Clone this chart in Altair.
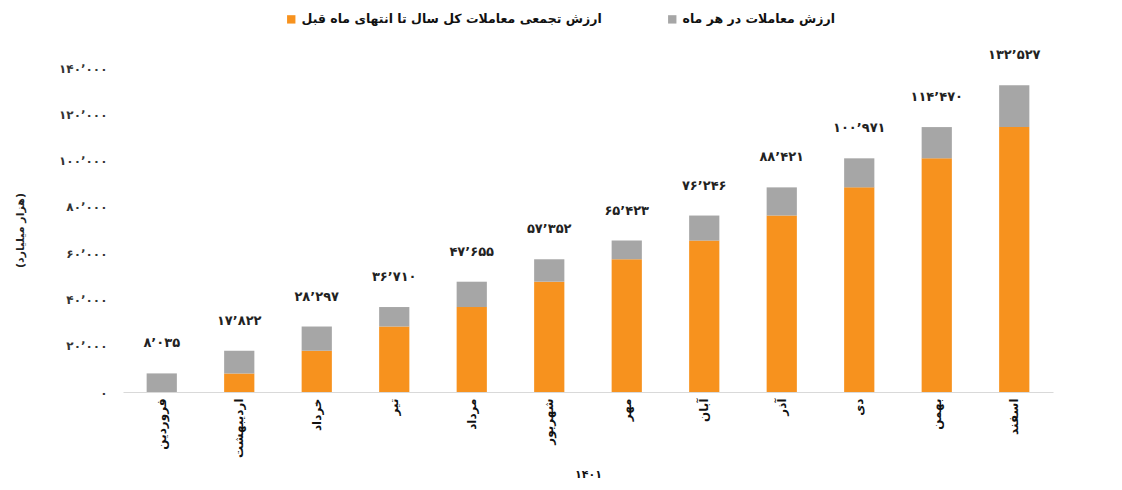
import altair as alt
import pandas as pd

months = ["فروردین", "اردیبهشت", "خرداد", "تیر", "مرداد", "شهریور",
          "مهر", "آبان", "آذر", "دی", "بهمن", "اسفند"]
# cumulative value up to the end of the previous month (orange)
cumulative_prev = [0, 8035, 17822, 28297, 36710, 47655, 57352, 65423, 76246, 88421, 100971, 114470]
# value of trades in each month (gray)
monthly = [8035, 9787, 10475, 8413, 10945, 9697, 8071, 10823, 12175, 12550, 13499, 18057]
# totals printed above bars
totals = [8035, 17822, 28297, 36710, 47655, 57352, 65423, 76246, 88421, 100971, 114470, 132527]

orange_lbl = "ارزش تجمعی معاملات کل سال تا انتهای ماه قبل"
gray_lbl = "ارزش معاملات در هر ماه"
y_ticks = [0, 20000, 40000, 60000, 80000, 100000, 120000, 140000]
y_title = "(هزار میلیارد)"
x_title = "۱۴۰۱"

rows = []
for m, a, b in zip(months, cumulative_prev, monthly):
    rows.append({"month": m, "series": orange_lbl, "value": a, "ord": 0})
    rows.append({"month": m, "series": gray_lbl, "value": b, "ord": 1})
bars_df = pd.DataFrame(rows)
tot_df = pd.DataFrame({"month": months, "total": totals})


def fa_expr(field):
    s = f"format({field}, ',')"
    for i, d in enumerate("۰۱۲۳۴۵۶۷۸۹"):
        s = f"replace({s}, regexp('{i}', 'g'), '{d}')"
    s = f"replace({s}, regexp(',', 'g'), '٬')"
    return s


FONT = "DejaVu Sans"

x_enc = alt.X(
    "month:N", sort=months,
    scale=alt.Scale(paddingInner=0.61, paddingOuter=0.305),
    axis=alt.Axis(
        title=x_title, labelAngle=270, labelFont=FONT, labelFontWeight="bold",
        labelFontSize=12, labelColor="#111", ticks=False, domainColor="#d9d9d9",
        labelPadding=6, titleFont=FONT, titleFontSize=11, titleFontWeight="bold",
        titleY=82, titleBaseline="middle", titleColor="#111",
    ),
)
y_scale = alt.Scale(domain=[0, 140000], nice=False)
y_axis = alt.Axis(
    title=y_title, values=y_ticks, labelExpr=fa_expr("datum.value"),
    labelFont=FONT, labelFontSize=12, labelFontWeight="bold", labelColor="#333",
    domain=False, ticks=False, labelPadding=16, grid=False,
    titleFont=FONT, titleFontSize=11, titleFontWeight="bold", titleColor="#222",
    titleAngle=270, titleX=-103, titleY=162, titleAlign="center", titleBaseline="middle",
)

bars = alt.Chart(bars_df).mark_bar().encode(
    x=x_enc,
    y=alt.Y("value:Q", stack="zero", scale=y_scale, axis=y_axis),
    color=alt.Color(
        "series:N",
        scale=alt.Scale(domain=[orange_lbl, gray_lbl], range=["#F7921E", "#A6A6A6"]),
        legend=alt.Legend(
            title=None, orient="none", legendX=162, legendY=-55, direction="horizontal",
            symbolType="square", symbolSize=70, symbolStrokeWidth=0,
            labelFont=FONT, labelFontSize=12.5, labelFontWeight="bold", labelColor="#111",
            columnPadding=64, labelLimit=400,
        ),
    ),
    order=alt.Order("ord:Q"),
)

labels = alt.Chart(tot_df).transform_calculate(
    lbl=fa_expr("datum.total")
).mark_text(
    font=FONT, fontSize=13, fontWeight="bold", color="#222", baseline="middle", dy=-30
).encode(
    x=x_enc,
    y=alt.Y("total:Q", scale=y_scale, axis=y_axis),
    text="lbl:N",
)

chart = alt.layer(bars, labels).properties(
    width=930, height=324,
    autosize=alt.AutoSizeParams(type="none"),
    padding={"left": 115, "top": 60, "right": 61, "bottom": 90},
    background="white",
).configure_view(stroke=None)

chart.save("out.html", embed_options={"renderer": "svg", "actions": False})
